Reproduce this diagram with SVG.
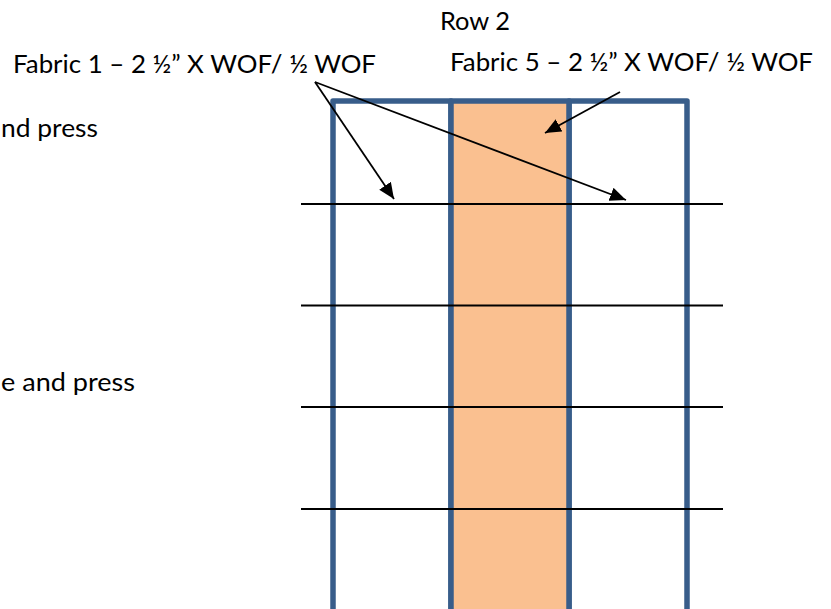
<svg xmlns="http://www.w3.org/2000/svg" width="831" height="609" viewBox="0 0 831 609">
  <style>
    .lbl { font-family: Lato, "Liberation Sans", sans-serif; font-size: 25px; fill: #000; }
    .col { stroke: #385D8A; stroke-width: 5.5; stroke-linejoin: round; }
    .hl { stroke: #000; stroke-width: 1.8; fill: none; }
    .arr { stroke: #000; stroke-width: 1.8; fill: none; marker-end: url(#ah); }
  </style>
  <defs>
    <marker id="ah" markerUnits="userSpaceOnUse" markerWidth="18" markerHeight="16" refX="16" refY="7" orient="auto">
      <path d="M0,0 L16,7 L0,14 Z" fill="#000"/>
    </marker>
  </defs>
  <rect width="831" height="609" fill="#fff"/>

  <g id="columns">
    <g id="col-left"><rect class="col" x="333" y="101" width="118" height="540" fill="#fff"/></g>
    <g id="col-right"><rect class="col" x="569" y="101" width="118" height="540" fill="#fff"/></g>
    <g id="col-middle"><rect class="col" x="451" y="101" width="118" height="540" fill="#FAC090"/></g>
  </g>

  <g id="cut-lines">
    <line class="hl" x1="301" y1="204" x2="723" y2="204"/>
    <line class="hl" x1="301" y1="305.5" x2="723" y2="305.5"/>
    <line class="hl" x1="301" y1="407" x2="723" y2="407"/>
    <line class="hl" x1="301" y1="509" x2="723" y2="509"/>
  </g>

  <g id="connectors">
    <line class="arr" x1="315" y1="82" x2="394" y2="199"/>
    <line class="arr" x1="315" y1="82" x2="626" y2="200"/>
    <line class="arr" x1="620" y1="92" x2="545" y2="133"/>
  </g>

  <g id="labels">
    <g id="row2"><text class="lbl" x="440" y="30" textLength="70" lengthAdjust="spacingAndGlyphs">Row 2</text></g>
    <g id="fabric1"><text class="lbl" x="13" y="73" textLength="363" lengthAdjust="spacingAndGlyphs">Fabric 1 – 2 ½” X WOF/ ½ WOF</text></g>
    <g id="fabric5"><text class="lbl" x="450" y="71" textLength="363" lengthAdjust="spacingAndGlyphs">Fabric 5 – 2 ½” X WOF/ ½ WOF</text></g>
    <g id="step1"><text class="lbl" x="1" y="137" textLength="97" lengthAdjust="spacingAndGlyphs">nd press</text></g>
    <g id="step2"><text class="lbl" x="1" y="391" textLength="134" lengthAdjust="spacingAndGlyphs">e and press</text></g>
  </g>
</svg>
